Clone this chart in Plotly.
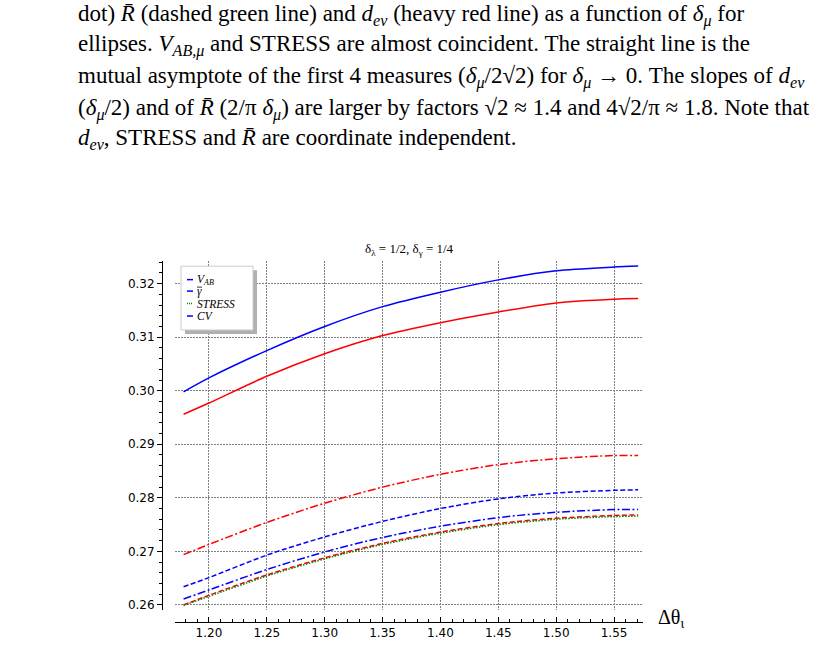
import plotly.graph_objects as go

W, H = 823, 650

# ---- data ----
x_vals = [1.1781, 1.20, 1.25, 1.30, 1.35, 1.40, 1.45, 1.50, 1.55, 1.5708]
blue_solid = [0.2998, 0.3024, 0.3075, 0.3120, 0.3157, 0.3184, 0.3207, 0.3224, 0.3231, 0.3233]
red_solid = [0.2956, 0.2977, 0.3027, 0.3069, 0.3103, 0.3127, 0.3147, 0.3164, 0.3171, 0.3172]
red_dashdot = [0.2694, 0.2713, 0.2754, 0.2790, 0.2820, 0.2844, 0.2862, 0.2873, 0.2879, 0.2879]
blue_dash = [0.2634, 0.2651, 0.2693, 0.2727, 0.2756, 0.2780, 0.2798, 0.2809, 0.2814, 0.2815]
blue_dashdot = [0.2611, 0.2628, 0.2666, 0.2699, 0.2726, 0.2747, 0.2763, 0.2773, 0.2778, 0.2778]
red_dash = [0.2600, 0.2618, 0.2656, 0.2688, 0.2715, 0.2736, 0.2752, 0.2762, 0.2767, 0.2768]
green_dot = [0.2599, 0.2616, 0.2654, 0.2686, 0.2713, 0.2734, 0.2750, 0.2760, 0.2765, 0.2766]

legend_labels = ["V<sub>AB</sub>", "γ", "STRESS", "CV"]
title_text = "δ<sub>λ</sub> = 1/2, δ<sub>γ</sub> = 1/4"
x_label = "Δθ<sub>ι</sub>"

caption_lines = [
    "dot) <i>R̄</i> (dashed green line) and <i>d<sub>ev</sub></i> (heavy red line) as a function of <i>δ<sub>μ</sub></i> for",
    "ellipses. <i>V<sub>AB,μ</sub></i> and STRESS are almost coincident. The straight line is the",
    "mutual asymptote of the first 4 measures (<i>δ<sub>μ</sub></i>/2√2) for <i>δ<sub>μ</sub></i> → 0. The slopes of <i>d<sub>ev</sub></i>",
    "(<i>δ<sub>μ</sub></i>/2) and of <i>R̄</i> (2/π <i>δ<sub>μ</sub></i>) are larger by factors √2 ≈ 1.4 and 4√2/π ≈ 1.8. Note that",
    "<i>d<sub>ev</sub></i>, STRESS and <i>R̄</i> are coordinate independent.",
]
caption_y = [16, 46, 78, 110, 139]

BLUE, RED, GREEN = "#0000ff", "#ff0000", "#008000"
DASH = "5px,2.5px"
DASHDOT = "8px,2.5px,2px,2.5px"
DOT = "1.5px,1.5px"

def px(x):
    return x / W

def py(y):
    return 1 - y / H

fig = go.Figure()
series = [
    (blue_solid, BLUE, "solid", "γ̄"),
    (red_solid, RED, "solid", "d_ev"),
    (red_dashdot, RED, DASHDOT, "R̄"),
    (blue_dash, BLUE, DASH, "V_AB"),
    (blue_dashdot, BLUE, DASHDOT, "CV"),
    (red_dash, RED, DASH, "d"),
    (green_dot, GREEN, DOT, "STRESS"),
]
for ys, col, dash, name in series:
    fig.add_trace(go.Scatter(x=x_vals, y=ys, mode="lines", name=name, showlegend=False,
                             line=dict(color=col, dash=dash, width=1.5, shape="spline", smoothing=0.8)))

GRID = "#808080"
fig.update_layout(
    width=W, height=H, margin=dict(l=0, r=0, t=0, b=0),
    paper_bgcolor="white", plot_bgcolor="white", showlegend=False,
    xaxis=dict(domain=[px(175), px(643)], range=[1.1707, 1.575], anchor="free", position=py(624),
               showline=True, linecolor="black", linewidth=1, ticks="inside", ticklen=5,
               tickcolor="black", tick0=1.2, dtick=0.05, tickformat=".2f",
               tickfont=dict(family="DejaVu Sans", size=12, color="black"),
               showgrid=True, gridcolor=GRID, griddash="2px,1px", gridwidth=1, zeroline=False,
               minor=dict(tick0=1.2, dtick=0.01, ticks="inside", ticklen=3, tickcolor="black", showgrid=False)),
    yaxis=dict(domain=[py(612), py(262)], range=[0.25903, 0.32419], anchor="free", position=px(162),
               showline=True, linecolor="black", linewidth=1, ticks="outside", ticklen=5,
               tickcolor="black", tick0=0.26, dtick=0.01, tickformat=".2f",
               tickfont=dict(family="DejaVu Sans", size=12, color="black"),
               showgrid=True, gridcolor=GRID, griddash="2px,1px", gridwidth=1, zeroline=False,
               minor=dict(tick0=0.26, dtick=0.002, ticks="outside", ticklen=3, tickcolor="black", showgrid=False)),
)

shapes = []
# legend shadow and box
shapes.append(dict(type="rect", xref="paper", yref="paper", x0=px(185), x1=px(257), y0=py(335), y1=py(271),
                   fillcolor="#b0b0b0", line=dict(width=0), layer="above"))
shapes.append(dict(type="rect", xref="paper", yref="paper", x0=px(181), x1=px(253), y0=py(331), y1=py(267),
                   fillcolor="white", line=dict(color="#cccccc", width=1), layer="above"))
legend_rows = [(280.5, BLUE, "solid"), (292, BLUE, "solid"), (304.5, GREEN, "1px,1px"), (317, BLUE, "solid")]
for (yy, col, dash) in legend_rows:
    shapes.append(dict(type="line", xref="paper", yref="paper", x0=px(187), x1=px(193), y0=py(yy), y1=py(yy),
                       line=dict(color=col, width=1.5, dash=dash), layer="above"))
# bar over gamma in legend
shapes.append(dict(type="line", xref="paper", yref="paper", x0=px(197), x1=px(202), y0=py(288), y1=py(288),
                   line=dict(color="black", width=0.8), layer="above"))
fig.update_layout(shapes=shapes)

ann = []
for (yy, _, _), lab in zip(legend_rows, legend_labels):
    ann.append(dict(x=px(195), y=py(yy), xref="paper", yref="paper", xanchor="left", yanchor="middle",
                    text="<i>" + lab + "</i>", showarrow=False,
                    font=dict(family="Liberation Serif", size=11.5, color="black")))
ann.append(dict(x=px(409), y=py(250), xref="paper", yref="paper", xanchor="center", yanchor="middle",
                text=title_text, showarrow=False, font=dict(family="Liberation Serif", size=13, color="black")))
ann.append(dict(x=px(656), y=py(620), xref="paper", yref="paper", xanchor="left", yanchor="middle",
                text=x_label, showarrow=False, font=dict(family="Liberation Serif", size=20, color="black")))
for line, yy in zip(caption_lines, caption_y):
    ann.append(dict(x=px(76), y=py(yy), xref="paper", yref="paper", xanchor="left", yanchor="middle",
                    text=line, showarrow=False, align="left",
                    font=dict(family="Liberation Serif", size=23, color="black")))
fig.update_layout(annotations=ann)

fig.write_html("out.html")
